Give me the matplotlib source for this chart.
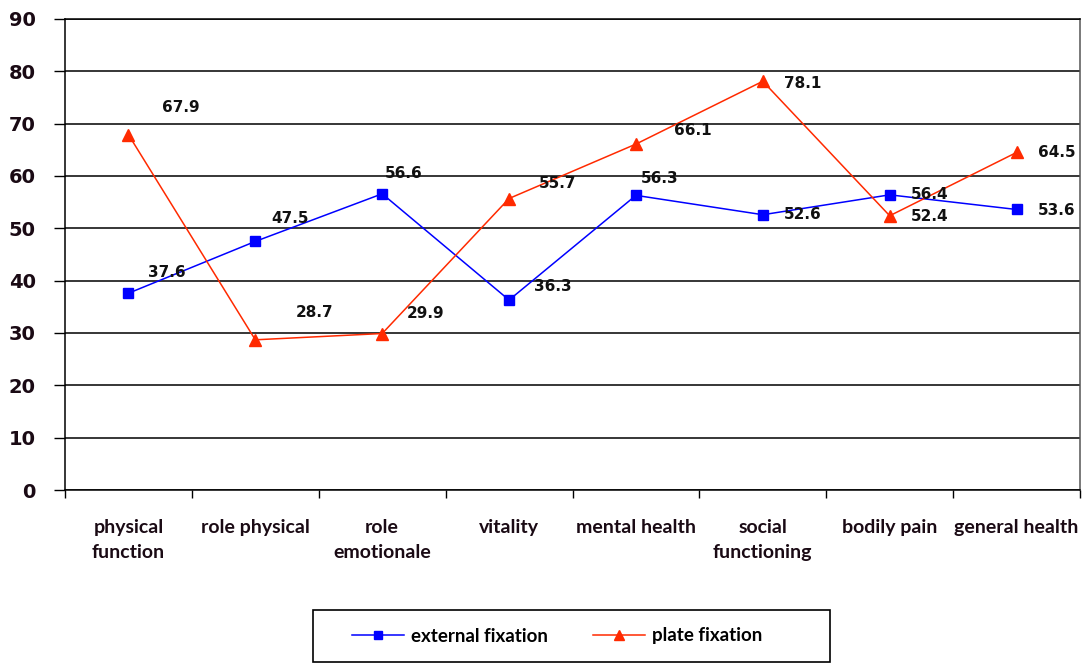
import matplotlib
matplotlib.use("Agg")
import matplotlib.pyplot as plt
from matplotlib.patches import Rectangle
from matplotlib.ticker import FixedLocator

categories = ["physical\nfunction", "role physical", "role\nemotionale", "vitality",
              "mental health", "social\nfunctioning", "bodily pain", "general health"]
external = [37.6, 47.5, 56.6, 36.3, 56.3, 52.6, 56.4, 53.6]
plate = [67.9, 28.7, 29.9, 55.7, 66.1, 78.1, 52.4, 64.5]
yticks = [0, 10, 20, 30, 40, 50, 60, 70, 80, 90]

# label offsets in pixels (dx, dy up)
ext_off = [(38, 21), (35, 23), (21, 20), (44, 14), (24, 17), (40, 0), (40, 0), (40, -1)]
plate_off = [(52, 27), (59, 27), (43, 20), (49, 15), (57, 14), (40, -2), (40, -1), (40, 0)]

BLUE = "#0000FF"
RED = "#FF2A00"

fig = plt.figure(figsize=(10.86, 6.64), dpi=100)
ax = fig.add_axes([65 / 1086, (664 - 490) / 664, 1015 / 1086, 471 / 664])

x = [i + 0.5 for i in range(len(categories))]
ax.plot(x, external, color=BLUE, lw=1.1, marker="s", ms=7, mec=BLUE, mfc=BLUE,
        label="external fixation", zorder=3)
ax.plot(x, plate, color=RED, lw=1.1, marker="^", ms=8, mec=RED, mfc=RED,
        label="plate fixation", zorder=3)

for xi, v, (dx, dy) in zip(x, external, ext_off):
    ax.annotate(f"{v:.1f}", (xi, v), xytext=(dx, dy), textcoords="offset pixels",
                ha="center", va="center", fontsize=11, fontweight="bold",
                family="DejaVu Sans", color="#111111", zorder=4)
for xi, v, (dx, dy) in zip(x, plate, plate_off):
    ax.annotate(f"{v:.1f}", (xi, v), xytext=(dx, dy), textcoords="offset pixels",
                ha="center", va="center", fontsize=11, fontweight="bold",
                family="DejaVu Sans", color="#111111", zorder=4)

ax.set_xlim(0, len(categories))
ax.set_ylim(0, 90)
ax.set_yticks(yticks)
ax.set_yticklabels([str(t) for t in yticks], fontsize=14, fontweight="bold",
                   family="DejaVu Sans", color="#1a0a14")
ax.yaxis.grid(True, color="black", lw=1.1)
ax.set_axisbelow(True)

ax.set_xticks(x)
ax.set_xticklabels(categories, fontsize=14, fontweight="bold", family="Lato",
                   linespacing=1.55, color="#1a0a14")
ax.xaxis.set_minor_locator(FixedLocator(list(range(len(categories) + 1))))
ax.tick_params(axis="x", which="major", length=0, pad=21)
ax.tick_params(axis="x", which="minor", length=6, width=1, color="black")
ax.tick_params(axis="y", which="major", length=8, width=1, pad=13, color="black")

for s in ax.spines.values():
    s.set_color("black")
    s.set_linewidth(1.1)
ax.spines["right"].set_color("#555555")

# legend box
fig.patches.append(Rectangle((313 / 1086, 1 - 662 / 664), 517 / 1086, 52 / 664,
                             transform=fig.transFigure, fill=False, edgecolor="black",
                             lw=1.2))
handles, labels = ax.get_legend_handles_labels()
fig.legend(handles, labels, loc="center", bbox_to_anchor=(557 / 1086, 1 - 636 / 664),
           ncol=2, frameon=False, handlelength=2.8, columnspacing=2.4,
           handletextpad=0.37, markerscale=0.85,
           prop={"family": "Lato", "weight": "bold", "size": 13.5})

fig.savefig("out.png", dpi=100, facecolor="white")
